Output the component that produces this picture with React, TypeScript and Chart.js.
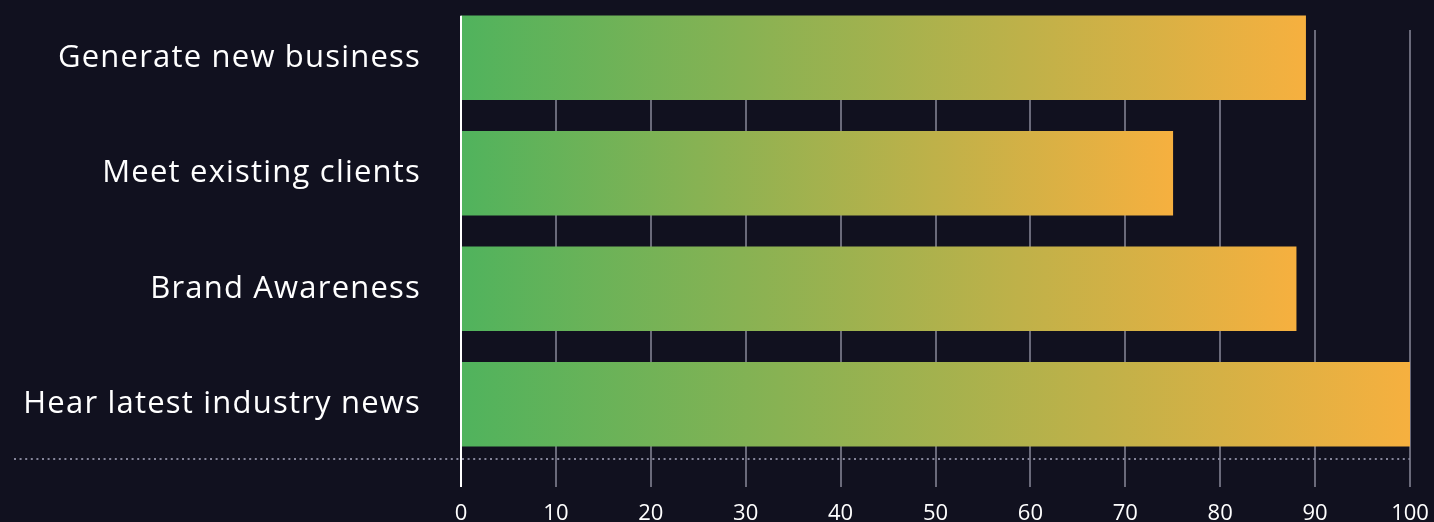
import React, { useEffect, useRef } from "react";
import { Chart, registerables } from "chart.js";

Chart.register(...registerables);

const categories = [
  "Generate new business",
  "Meet existing clients",
  "Brand Awareness",
  "Hear latest industry news",
];
const values = [89, 75, 88, 100];
const xTicks = [0, 10, 20, 30, 40, 50, 60, 70, 80, 90, 100];

const BG = "#11111f";
const GREEN = "#50b35d";
const ORANGE = "#f6b03f";
const GRID = "#6a6a7a";
const DOT = "#85859a";
const FONT = "'Open Sans', 'Noto Sans', sans-serif";

const decorPlugin = {
  id: "decor",
  beforeDraw(chart: any) {
    const { ctx, width, height } = chart;
    ctx.save();
    ctx.fillStyle = BG;
    ctx.fillRect(0, 0, width, height);
    ctx.restore();
  },
  beforeDatasetsDraw(chart: any) {
    const { ctx, chartArea } = chart;
    const x = chart.scales.x;
    ctx.save();
    ctx.strokeStyle = GRID;
    ctx.lineWidth = 2;
    xTicks.forEach((t) => {
      if (t === 0) return;
      const px = Math.round(x.getPixelForValue(t));
      ctx.beginPath();
      ctx.moveTo(px, chartArea.top + 30);
      ctx.lineTo(px, chartArea.bottom + 25);
      ctx.stroke();
    });
    ctx.strokeStyle = DOT;
    ctx.lineWidth = 2;
    ctx.setLineDash([2, 3.6]);
    ctx.beginPath();
    ctx.moveTo(14, chartArea.bottom - 3);
    ctx.lineTo(chartArea.right, chartArea.bottom - 3);
    ctx.stroke();
    ctx.restore();
  },
  afterDatasetsDraw(chart: any) {
    const { ctx, chartArea } = chart;
    const x = chart.scales.x;
    const meta = chart.getDatasetMeta(0);
    const first = meta.data[0];
    const top = first ? first.y - first.height / 2 : chartArea.top;
    const px = x.getPixelForValue(0);
    ctx.save();
    ctx.strokeStyle = "#ffffff";
    ctx.lineWidth = 2;
    ctx.beginPath();
    ctx.moveTo(px, top);
    ctx.lineTo(px, chartArea.bottom + 25);
    ctx.stroke();
    ctx.restore();
  },
};

export default function App() {
  const ref = useRef<HTMLCanvasElement | null>(null);

  useEffect(() => {
    document.body.style.margin = "0";
    document.body.style.background = BG;
    if (!ref.current) return;
    const chart = new Chart(ref.current, {
      type: "bar",
      data: {
        labels: categories,
        datasets: [
          {
            data: values,
            barThickness: 84,
            borderWidth: 0,
            backgroundColor: (ctx: any) => {
              const c = ctx.chart;
              const xs = c.scales.x;
              if (!xs || !c.chartArea || ctx.parsed == null) return GREEN;
              const x0 = xs.getPixelForValue(0);
              const x1 = xs.getPixelForValue(ctx.parsed.x);
              const g = c.ctx.createLinearGradient(x0, 0, Math.max(x1, x0 + 1), 0);
              g.addColorStop(0, GREEN);
              g.addColorStop(1, ORANGE);
              return g;
            },
          },
        ],
      },
      options: {
        indexAxis: "y",
        animation: false,
        responsive: true,
        maintainAspectRatio: false,
        layout: { padding: { top: 0, right: 24, left: 0, bottom: 0 } },
        plugins: {
          legend: { display: false },
          tooltip: { enabled: false },
        },
        scales: {
          x: {
            type: "linear",
            min: 0,
            max: 100,
            afterBuildTicks: (s: any) => {
              s.ticks = xTicks.map((v) => ({ value: v }));
            },
            afterFit: (s: any) => {
              s.height = 60;
              s.paddingLeft = 0;
              s.paddingRight = 0;
            },
            grid: { display: false },
            border: { display: false },
            ticks: {
              color: "#ffffff",
              padding: 31,
              font: { family: FONT, size: 22 },
              maxRotation: 0,
            },
          },
          y: {
            type: "category",
            afterFit: (s: any) => {
              s.width = 461;
              s.paddingTop = 0;
              s.paddingBottom = 0;
            },
            grid: { display: false, drawTicks: false },
            border: { display: false },
            ticks: {
              color: "#ffffff",
              padding: 40,
              font: { family: FONT, size: 31 },
            },
          },
        },
      },
      plugins: [decorPlugin],
    } as any);
    const ys: any = chart.scales.y;
    const orig = ys.drawLabels.bind(ys);
    ys.drawLabels = (area: any) => {
      const c = chart.ctx as any;
      c.save();
      c.letterSpacing = "1.2px";
      orig(area);
      c.restore();
    };
    chart.draw();
    return () => chart.destroy();
  }, []);

  return (
    <div style={{ width: 1434, height: 522, position: "relative" }}>
      <canvas ref={ref} />
    </div>
  );
}
